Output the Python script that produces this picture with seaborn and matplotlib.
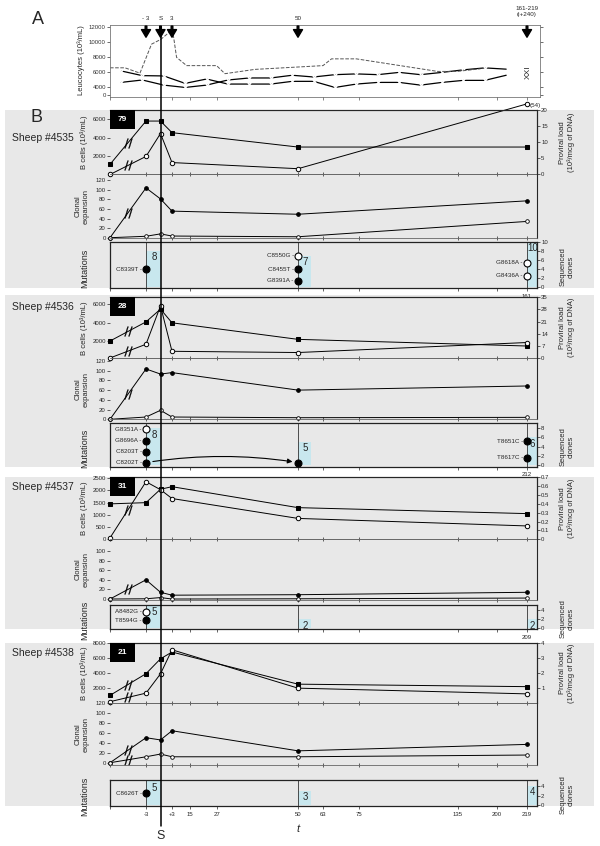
import numpy as np
import matplotlib
matplotlib.use("Agg")
import matplotlib.pyplot as plt
from matplotlib.patches import Rectangle
from matplotlib.lines import Line2D
import seaborn as sns

sns.set_theme(style="ticks")
plt.rcParams['font.family'] = ['Liberation Sans', 'DejaVu Sans']
plt.rcParams['axes.unicode_minus'] = False

# -----------------------------
# Data
# -----------------------------
# Panel A: leucocyte counts (10^3/mL), one value per sampling
leuco_idx = list(range(19))
leuco_a = [6200, 5570, 5530, 4540, 5120, 4450, 4450, 4450, 4810, 4810,
           4000, 4450, 4670, 4670, 4310, 4670, 4940, 4940, 5620]
leuco_b = [4670, 4990, 4310, 4000, 4310, 4990, 5260, 5260, 5620, 5390,
           5700, 5800, 5700, 6000, 5700, 6000, 6340, 6600, 6430]
mean_idx = [-0.51, 0.19, 0.89, 1.43, 1.87, 2.41, 2.6, 3.07, 4.47, 4.86,
            6.26, 9.44, 9.84, 11.0, 14.8, 15.7, 16.8]
mean_val = [6610, 6610, 5900, 9750, 10400, 11700, 8000, 6900, 6900, 5830,
            6400, 6900, 7800, 7800, 6130, 6130, 6480]
arrow_days = [-3, 0, 3, 50, 219]
arrow_labels = ['- 3', 'S', '3', '50', '161-219\n(i+240)']

# Panel B: sampling days (pre-infection, -3, S, +3, 50, last sample)
days = [-10, -3, 0, 3, 50, 219]
sheep_ids = ['4535', '4536', '4537', '4538']
sheep_tags = ['79', '28', '31', '21']
last_day = [161, 212, 209, 219]

bcells = [[1100, 5800, 5800, 4540, 2980, 2980],
          [2000, 4070, 5450, 3970, 2180, 1460],
          [1450, 1500, 2050, 2155, 1295, 1050],
          [1040, 3920, 5900, 6800, 2530, 2200]]
proviral = [[0, 5.6, 12.7, 3.7, 1.8, 54],
            [0.3, 8.1, 29.9, 4.1, 3.4, 9.1],
            [0.015, 0.65, 0.56, 0.46, 0.235, 0.15],
            [0.1, 0.67, 1.95, 3.55, 1.0, 0.62]]
clonal_hi = [[0, 104, 81, 55.5, 49, 77],
             [0, 103.5, 93, 96, 60, 68.5],
             [0, 40, 14, 8, 9, 14],
             [0, 50.5, 46, 64.6, 24, 37]]
clonal_lo = [[0, 3, 8, 3.5, 2, 34],
             [0, 4.7, 18.5, 4.7, 3.3, 4],
             [0, 0.5, 3, 0, 0.5, 2],
             [0, 12, 17.5, 12, 12, 15.5]]

clone_days = [-3, 50, 219]
clone_width = [3, 7, 11]
clones = [[8, 7, 10], [8, 5, 6], [5, 2, 2], [5, 3, 4]]

# (day, mutation, sequenced-clone level, filled)
mut_4535 = [(-3, 'C8339T', 4.0, True), (50, 'C8550G', 7.0, False),
            (50, 'C8455T', 4.0, True), (50, 'G8391A', 1.5, True),
            (219, 'G8618A', 5.4, False), (219, 'G8436A', 2.5, False)]
mut_4536 = [(-3, 'G8351A', 7.8, False), (-3, 'G8696A', 5.3, True),
            (-3, 'C8203T', 2.9, True), (-3, 'C8202T', 0.5, True),
            (50, '', 0.5, True), (219, 'T8651C', 5.2, True),
            (219, 'T8617C', 1.6, True)]
mut_4537 = [(-3, 'A8482G', 3.6, False), (-3, 'T8594G', 1.75, True)]
mut_4538 = [(-3, 'C8626T', 2.5, True)]
mutations = [mut_4535, mut_4536, mut_4537, mut_4538]

brk_bcells = [True, True, False, True]
brk_clonal_lo = [False, False, False, True]

# -----------------------------
# Axis styling
# -----------------------------
b_ylim = [(0, 7000), (110, 6760), (0, 2540), (0, 8000)]
b_ticks = [[2000, 4000, 6000], [2000, 4000, 6000],
           [0, 500, 1000, 1500, 2000, 2500], [2000, 4000, 6000, 8000]]
pv_ylim = [(0, 20), (0, 35), (0, 0.7), (0, 4)]
pv_ticks = [[0, 5, 10, 15, 20], [0, 7, 14, 21, 28, 35],
            [0, 0.1, 0.2, 0.3, 0.4, 0.5, 0.6, 0.7], [1, 2, 3, 4]]
cl_ylim = [(-0.6, 132), (-0.4, 125), (-1, 124.6), (-4.6, 120.2)]
cl_ticks = [list(range(0, 121, 20)), list(range(0, 121, 20)),
            list(range(0, 101, 20)), list(range(0, 121, 20))]
sq_ylim = [(-0.15, 10.0), (-0.4, 9.1), (-0.15, 5.1), (-0.2, 5.26)]
sq_ticks = [[0, 2, 4, 6, 8, 10], [0, 2, 4, 6, 8], [0, 2, 4], [0, 2, 4]]

band_y = [(110, 288), (295, 467), (477, 629), (643, 806)]
bcell_y = [(110, 174.5), (297, 358.5), (477.3, 539.2), (643, 703.2)]
clonal_y = [(174.5, 238), (358.5, 419.5), (539.2, 599.5), (703.2, 765)]
box_y = [(242, 288), (423.3, 466.7), (605, 629), (780, 806)]

# non-linear time axis (day -> position)
scale_days = [-10, -3, 0, 3, 15, 27, 50, 63, 75, 135, 200, 219, 230, 240]
scale_pos = [110, 146, 160.5, 172, 190, 217, 298, 323, 359, 458, 497, 527, 537, 547]
xt_days = [-10, -3, 3, 15, 27, 50, 63, 75, 135, 200, 219]
xt_labels = ['', '-3', '+3', '15', '27', '50', '63', '75', '135', '200', '219']

BAND = '#e8e8e8'
CYAN = '#c8e7ee'
W, H = 600, 846
TS = 4.3


def fwd(d):
    return np.interp(np.asarray(d, dtype=float), scale_days, scale_pos)


def inv(p):
    return np.interp(np.asarray(p, dtype=float), scale_pos, scale_days)


fig = plt.figure(figsize=(6, 8.46), dpi=100)


def add_ax(x0, y0, x1, y1):
    ax = fig.add_axes([x0 / W, 1 - y1 / H, (x1 - x0) / W, (y1 - y0) / H])
    ax.set_facecolor('none')
    return ax


def fxy(px, py):
    return px / W, 1 - py / H


def time_axis(ax, right=230):
    ax.set_xscale('function', functions=(fwd, inv))
    ax.set_xlim(-10, right)
    ax.set_xticks(xt_days)


# -----------------------------
# Panel A
# -----------------------------
axA = add_ax(110, 25, 540, 97)
sns.lineplot(x=leuco_idx, y=leuco_a, ax=axA, color='black', lw=0.9,
             marker='x', ms=3.5, mew=0.9, markevery=list(range(18)), errorbar=None)
sns.lineplot(x=leuco_idx, y=leuco_b, ax=axA, color='black', lw=0.9,
             marker='x', ms=3.5, mew=0.9, markevery=list(range(18)), errorbar=None)
sns.lineplot(x=mean_idx, y=mean_val, ax=axA, color='#555555', lw=0.7,
             linestyle='--', errorbar=None)
axA.set_xlim(-0.51, 19.58)
axA.set_ylim(2730, 12300)
axA.set_yticks([3000, 4000, 6000, 8000, 10000, 12000])
axA.set_yticklabels(['0', '4000', '6000', '8000', '10000', '12000'])
axA.set_xticks([])
axA.tick_params(axis='y', left=True, right=True, labelsize=TS, length=2,
                width=0.5, pad=1, colors='#333333')
for s in axA.spines.values():
    s.set_color('#777777')
    s.set_linewidth(0.6)
axA.set_xlabel('')
axA.set_ylabel('')

axA2 = axA.twiny()
axA2.set_facecolor('none')
time_axis(axA2, right=float(inv(540)))
axA2.xaxis.set_ticks_position('bottom')
axA2.tick_params(axis='x', bottom=True, top=False, labelbottom=False,
                 labeltop=False, length=2, width=0.5, colors='#555555')
for s in axA2.spines.values():
    s.set_visible(False)
for d, lab in zip(arrow_days, arrow_labels):
    axA2.annotate('', xy=(d, 0.83), xytext=(d, 0.985),
                  xycoords=('data', 'axes fraction'),
                  arrowprops=dict(facecolor='black', edgecolor='black',
                                  width=1.2, headwidth=6.5, headlength=5.5, shrink=0))
    ty = 1.19 if '\n' in lab else 1.085
    axA2.text(d, ty, lab, transform=axA2.get_xaxis_transform(), ha='center',
              va='center', fontsize=4.5, linespacing=1.4)
axA2.text(220, 0.35, 'XXI', transform=axA2.get_xaxis_transform(), rotation=90,
          ha='center', va='center', fontsize=6)

fig.text(*fxy(81, 60), 'Leucocytes (10³/mL)', rotation=90, ha='center',
         va='center', fontsize=5.5)
fig.text(*fxy(38, 19), 'A', ha='center', va='center', fontsize=13)
fig.text(*fxy(36, 117), 'B', ha='center', va='center', fontsize=13)

# -----------------------------
# Panel B
# -----------------------------
axes_b = []
for i, sid in enumerate(sheep_ids):
    by0, by1 = band_y[i]
    fig.add_artist(Rectangle(fxy(5, by1), 589 / W, (by1 - by0) / H,
                             transform=fig.transFigure, facecolor=BAND,
                             edgecolor='none', zorder=-5))

    # B cells / proviral load
    t0, t1 = bcell_y[i]
    axb = add_ax(110, t0, 537, t1)
    time_axis(axb)
    axp = axb.twinx()
    axp.set_facecolor('none')
    sns.lineplot(x=days, y=bcells[i], ax=axb, color='black', lw=0.7, marker='s',
                 ms=3.2, mfc='black', mec='black', errorbar=None, clip_on=False)
    cap = pv_ylim[i][1] * 1.095
    pv = np.minimum(proviral[i], cap)
    sns.lineplot(x=days, y=pv, ax=axp, color='black', lw=0.7, marker='o',
                 ms=3.2, mfc='white', mec='black', mew=0.7, errorbar=None,
                 clip_on=False)
    if proviral[i][-1] > cap:
        axp.annotate(f'({proviral[i][-1]:g})', xy=(days[-1], cap), xytext=(2, -1.5),
                     textcoords='offset points', fontsize=4.5, ha='left',
                     va='center', annotation_clip=False)
    xm = (days[0] + days[1]) / 2
    if brk_bcells[i]:
        axb.plot([xm], [(bcells[i][0] + bcells[i][1]) / 2], marker='$//$', ms=7,
                 color='black', mew=0.2, clip_on=False)
    axp.plot([xm], [(proviral[i][0] + proviral[i][1]) / 2], marker='$//$', ms=7,
             color='black', mew=0.2, clip_on=False)
    axb.set_ylim(*b_ylim[i])
    axb.set_yticks(b_ticks[i])
    axp.set_ylim(*pv_ylim[i])
    axp.set_yticks(pv_ticks[i])
    axp.set_yticklabels([f'{v:g}' for v in pv_ticks[i]])
    axb.tick_params(axis='y', left=True, labelsize=TS, length=2, width=0.5, pad=1)
    axp.tick_params(axis='y', right=True, labelsize=TS, length=2, width=0.5, pad=1)
    axb.tick_params(axis='x', labelbottom=False, length=3, width=0.5, direction='inout')
    for ax in (axb, axp):
        ax.spines['left'].set_visible(False)
        ax.spines['bottom'].set_color('#666666')
        ax.spines['bottom'].set_linewidth(0.6)
        ax.spines['top'].set_linewidth(0.8)
        ax.spines['right'].set_linewidth(0.8)
        ax.set_xlabel('')
        ax.set_ylabel('')

    # clonal expansion
    c0, c1 = clonal_y[i]
    axc = add_ax(110, c0, 537, c1)
    time_axis(axc)
    sns.lineplot(x=days, y=clonal_hi[i], ax=axc, color='black', lw=0.7, marker='o',
                 ms=2.6, mfc='black', mec='black', errorbar=None, clip_on=False)
    sns.lineplot(x=days, y=clonal_lo[i], ax=axc, color='black', lw=0.7, marker='o',
                 ms=2.6, mfc='white', mec='black', mew=0.6, errorbar=None,
                 clip_on=False)
    axc.plot([xm], [(clonal_hi[i][0] + clonal_hi[i][1]) / 2], marker='$//$', ms=7,
             color='black', mew=0.2, clip_on=False)
    if brk_clonal_lo[i]:
        axc.plot([xm], [(clonal_lo[i][0] + clonal_lo[i][1]) / 2], marker='$//$',
                 ms=7, color='black', mew=0.2, clip_on=False)
    axc.set_ylim(*cl_ylim[i])
    axc.set_yticks(cl_ticks[i])
    axc.tick_params(axis='y', left=True, labelsize=TS, length=2, width=0.5, pad=1)
    axc.tick_params(axis='x', labelbottom=False, length=3, width=0.5, direction='inout')
    axc.spines['left'].set_visible(False)
    axc.spines['top'].set_visible(False)
    axc.spines['bottom'].set_color('#666666')
    axc.spines['bottom'].set_linewidth(0.6)
    axc.spines['right'].set_linewidth(0.8)
    axc.set_xlabel('')
    axc.set_ylabel('')

    # mutations / sequenced clones
    m0, m1 = box_y[i]
    axm = add_ax(110, m0, 537, m1)
    time_axis(axm)
    axm.set_ylim(*sq_ylim[i])
    axm.bar(clone_days, clones[i], width=clone_width, align='edge', color=CYAN,
            edgecolor='none', zorder=1)
    for d, w, n in zip(clone_days, clone_width, clones[i]):
        axm.annotate(str(n), xy=(d + w / 2, n), xytext=(0.5, -1),
                     textcoords='offset points', ha='center', va='top',
                     fontsize=7, zorder=3)
    axm.vlines(clone_days, *sq_ylim[i], color='#333333', lw=0.6, zorder=2)
    for d, name, y, filled in mutations[i]:
        axm.plot([d], [y], marker='o', ms=5, mfc='black' if filled else 'white',
                 mec='black', mew=0.8, zorder=4, clip_on=False)
        if name:
            axm.annotate(name + ' -', xy=(d, y), xytext=(-3, 0),
                         textcoords='offset points', ha='right', va='center',
                         fontsize=4.5)
    if sid == '4536':
        axm.annotate('', xy=(50, 0.5), xytext=(-3, 0.5),
                     arrowprops=dict(arrowstyle='-|>', connectionstyle='arc3,rad=-0.08',
                                     color='black', lw=0.8, shrinkA=5, shrinkB=4,
                                     mutation_scale=7))
    axm.yaxis.tick_right()
    axm.set_yticks(sq_ticks[i])
    axm.tick_params(axis='y', left=False, right=True, labelsize=TS, length=2,
                    width=0.5, pad=1)
    labels = xt_labels if i == 3 else [''] * (len(xt_days) - 1) + [str(last_day[i])]
    axm.set_xticklabels(labels)
    axm.tick_params(axis='x', bottom=True, labelsize=TS, length=2.5, width=0.5, pad=1.5)
    for s in axm.spines.values():
        s.set_linewidth(0.9)
        s.set_color('#222222')

    # texts
    fig.text(*fxy(12, [138, 307, 487, 653][i]), 'Sheep #' + sid, ha='left',
             va='center', fontsize=7.5)
    fig.add_artist(Rectangle(fxy(110, t0 + 19), 25 / W, 19 / H,
                             transform=fig.transFigure, facecolor='black',
                             edgecolor='none', zorder=4))
    fig.text(*fxy(122.5, t0 + 9.5), sheep_tags[i], color='white', fontweight='bold',
             ha='center', va='center', fontsize=6, zorder=6)
    fig.text(*fxy(84, (t0 + t1) / 2), 'B cells (10³/mL)', rotation=90,
             ha='center', va='center', fontsize=5.5)
    fig.text(*fxy(82, (c0 + c1) / 2), 'Clonal\nexpansion', rotation=90,
             ha='center', va='center', fontsize=5.5, linespacing=1.1)
    fig.text(*fxy(85, (m0 + m1) / 2 + 3), 'Mutations', rotation=90,
             ha='center', va='center', fontsize=6.5)
    fig.text(*fxy(567, (t0 + t1) / 2), 'Proviral load\n(10³/mcg of DNA)',
             rotation=90, ha='center', va='center', fontsize=5.5, linespacing=1.1)
    fig.text(*fxy(567, (m0 + m1) / 2 + 2), 'Sequenced\nclones', rotation=90,
             ha='center', va='center', fontsize=5.5, linespacing=1.1)
    axes_b.append(axb)

# vertical line at day S (day 0) through all panels
xs = axes_b[0].transData.transform((0, b_ylim[0][0]))[0]
xs = fig.transFigure.inverted().transform((xs, 0))[0]
fig.add_artist(Line2D([xs, xs], [1 - 30 / H, 1 - 826 / H], transform=fig.transFigure,
                      color='black', lw=1.1, zorder=20))
fig.text(xs, 1 - 836 / H, 'S', ha='center', va='center', fontsize=9)
fig.text(*fxy(298, 829), 't', ha='center', va='center', fontsize=8, style='italic')

fig.savefig('out.png', dpi=100)
